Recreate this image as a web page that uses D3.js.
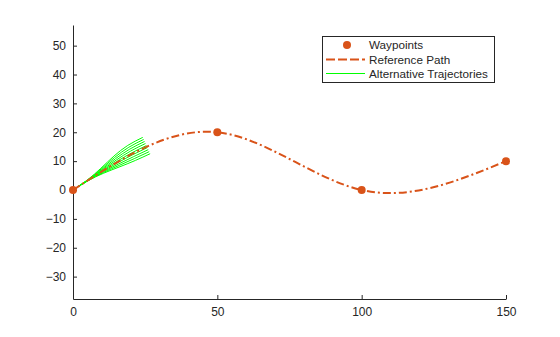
<!DOCTYPE html>
<html>
<head>
<meta charset="utf-8">
<script src="https://cdn.jsdelivr.net/npm/d3@7"></script>
<style>
  html, body { margin: 0; padding: 0; background: #fff; }
  svg { display: block; font-family: "Liberation Sans", Arial, Helvetica, sans-serif; }
</style>
</head>
<body>
<svg id="chart" width="560" height="337"></svg>
<script>
// ---- data ----
const waypointsX = [0, 50, 100, 150];
const waypointsY = [0, 20, 0, 10];

const xTicks = [0, 50, 100, 150];
const yTicks = [-30, -20, -10, 0, 10, 20, 30, 40, 50];

// alternative trajectories, each starts at the origin
const altTrajX = [
  [0, 5.21, 10.69, 16.29, 21.66, 26.72],
  [0, 5.18, 10.56, 16.02, 21.32, 26.40],
  [0, 5.16, 10.43, 15.75, 20.98, 26.08],
  [0, 5.13, 10.30, 15.49, 20.64, 25.76],
  [0, 5.11, 10.17, 15.22, 20.30, 25.43],
  [0, 5.08, 10.04, 14.96, 19.97, 25.11],
  [0, 5.06, 9.91, 14.69, 19.63, 24.79],
  [0, 5.03, 9.78, 14.42, 19.29, 24.47],
  [0, 5.01, 9.65, 14.16, 18.95, 24.15]
];
const altTrajY = [
  [0, 3.20, 5.85, 8.08, 10.26, 12.57],
  [0, 3.24, 6.06, 8.53, 10.91, 13.28],
  [0, 3.27, 6.27, 8.99, 11.55, 13.98],
  [0, 3.31, 6.48, 9.45, 12.20, 14.69],
  [0, 3.35, 6.69, 9.91, 12.84, 15.39],
  [0, 3.39, 6.90, 10.36, 13.49, 16.10],
  [0, 3.42, 7.10, 10.82, 14.14, 16.81],
  [0, 3.46, 7.31, 11.28, 14.78, 17.51],
  [0, 3.50, 7.52, 11.73, 15.43, 18.22]
];

const legendLabels = ["Waypoints", "Reference Path", "Alternative Trajectories"];

// ---- styles ----
const orange = "#D95319";
const green = "#00FF00";
const axisColor = "#262626";
const dash = "8,3,2,3";
const fontFamily = '"Liberation Sans", Arial, Helvetica, sans-serif';

const svg = d3.select("#chart");

const x = d3.scaleLinear().domain([0, 150]).range([73, 506]);
const y = d3.scaleLinear().domain([-37.75, 57.15]).range([299, 25]);

// axes
const xAxis = d3.axisBottom(x).tickValues(xTicks).tickSizeInner(-4).tickSizeOuter(0).tickPadding(8);
const yAxis = d3.axisLeft(y).tickValues(yTicks).tickSizeInner(-4).tickSizeOuter(0).tickPadding(7);

const gx = svg.append("g").attr("transform", `translate(0,${y.range()[0]})`).call(xAxis);
const gy = svg.append("g").attr("transform", `translate(${x.range()[0]},0)`).call(yAxis);
[gx, gy].forEach(g => {
  g.select(".domain").attr("stroke", axisColor).attr("stroke-width", 1);
  g.selectAll(".tick line").attr("stroke", axisColor);
  g.selectAll(".tick text").attr("fill", axisColor).style("font-size", "12px")
    .style("font-family", fontFamily);
});

const plot = svg.append("g");

// alternative trajectories
const line = d3.line().x(d => x(d[0])).y(d => y(d[1])).curve(d3.curveNatural);
altTrajX.forEach((xs, i) => {
  const pts = xs.map((v, j) => [v, altTrajY[i][j]]);
  plot.append("path").attr("d", line(pts))
    .attr("fill", "none").attr("stroke", green).attr("stroke-width", 1);
});

// reference path: smooth spline through the waypoints
const wp = waypointsX.map((v, i) => [v, waypointsY[i]]);
plot.append("path").attr("d", line(wp))
  .attr("fill", "none").attr("stroke", orange).attr("stroke-width", 2)
  .attr("stroke-dasharray", dash);

// waypoints
plot.selectAll("circle.wp").data(wp).enter().append("circle")
  .attr("class", "wp")
  .attr("cx", d => x(d[0])).attr("cy", d => y(d[1])).attr("r", 4)
  .attr("fill", orange);

// legend
const lg = svg.append("g");
lg.append("rect").attr("x", 322.5).attr("y", 36.5).attr("width", 172).attr("height", 46)
  .attr("fill", "#fff").attr("stroke", axisColor).attr("stroke-width", 1);
const rowsY = [45, 59.5, 73.5];
lg.append("circle").attr("cx", 347).attr("cy", rowsY[0]).attr("r", 4).attr("fill", orange);
lg.append("line").attr("x1", 326).attr("x2", 365).attr("y1", rowsY[1]).attr("y2", rowsY[1])
  .attr("stroke", orange).attr("stroke-width", 2).attr("stroke-dasharray", "9,3");
lg.append("rect").attr("x", 326).attr("width", 39).attr("y", 73).attr("height", 1.2)
  .attr("fill", green).attr("shape-rendering", "crispEdges");
legendLabels.forEach((t, i) => {
  lg.append("text").attr("x", 369).attr("y", rowsY[i]).attr("dy", "0.35em")
    .attr("fill", axisColor).style("font-size", "11.7px").style("font-family", fontFamily).text(t);
});
</script>
</body>
</html>
